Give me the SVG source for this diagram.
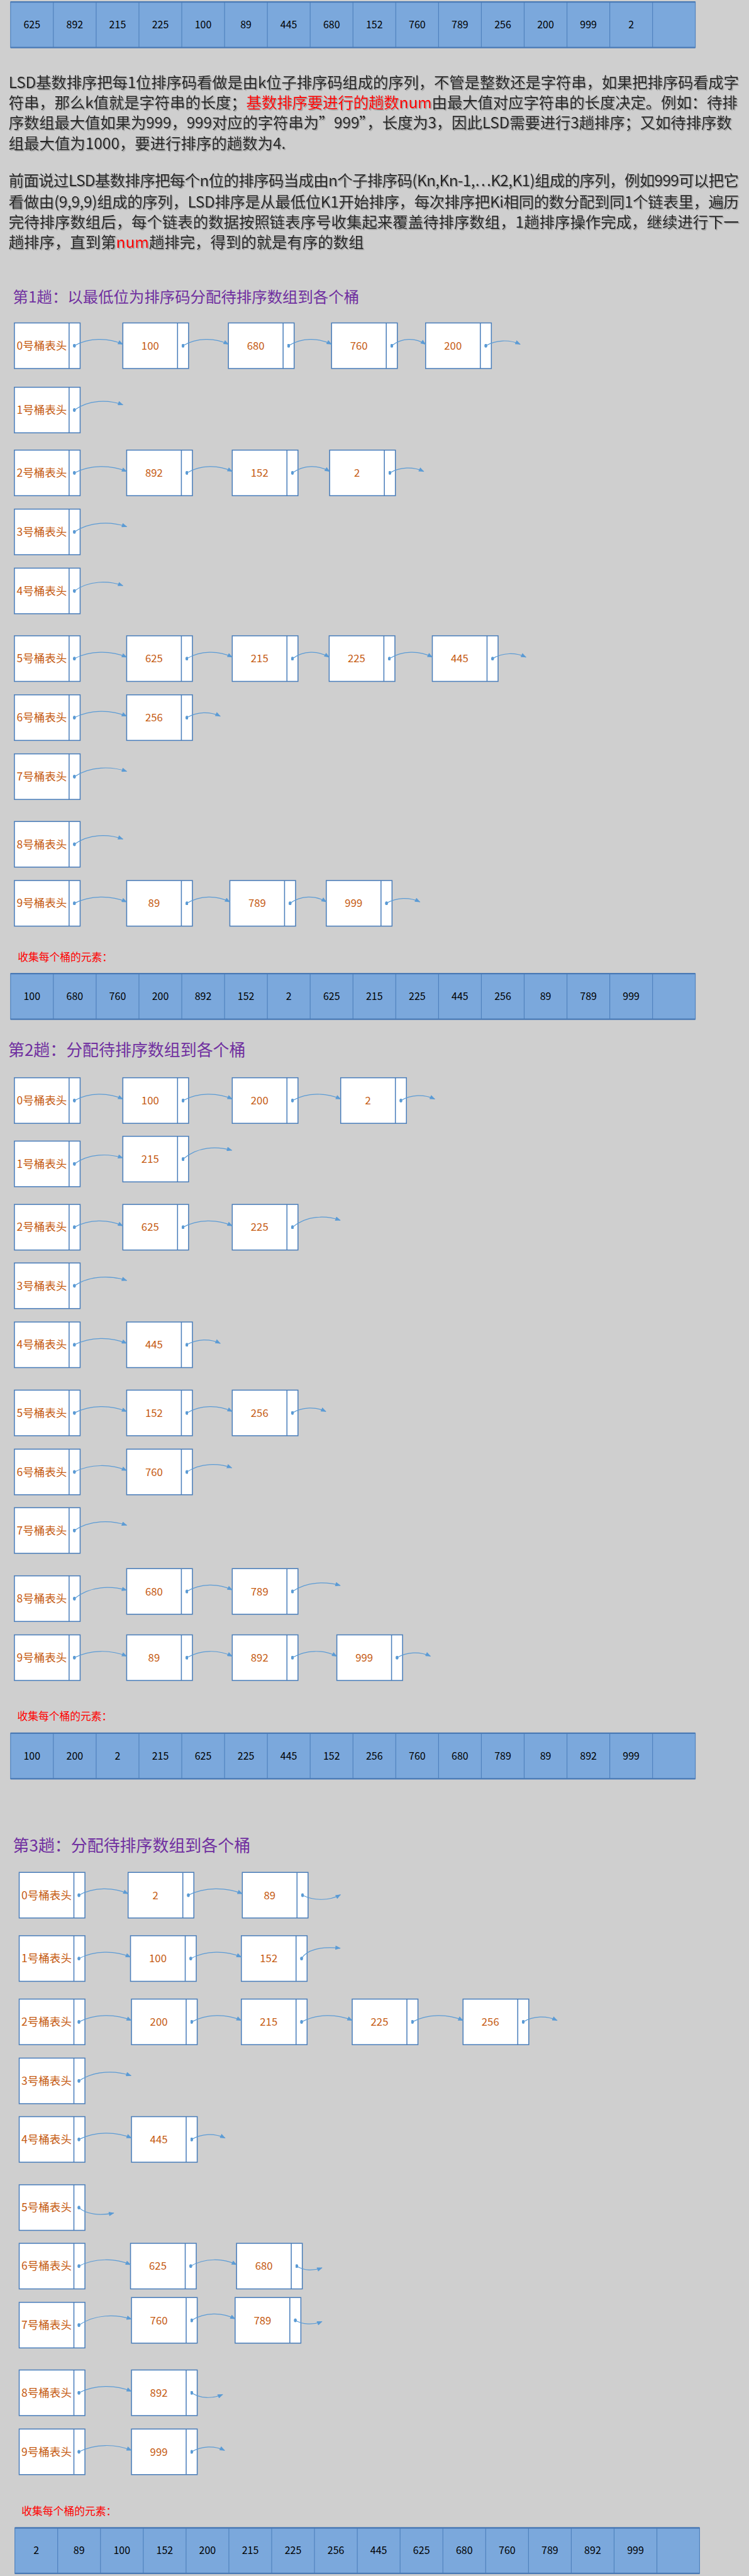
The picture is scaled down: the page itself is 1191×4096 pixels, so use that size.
<svg xmlns="http://www.w3.org/2000/svg" width="1191" height="4096" viewBox="0 0 1191 4096">
<style>
text{font-family:"Noto Sans CJK SC","Noto Sans",sans-serif}
.p{font-size:32px;fill:#262626;filter:url(#sh)}
.red{fill:#FF0000}
.t1{font-size:32px;fill:#7030A0}
.t2{font-size:34px;fill:#7030A0}
.col{font-size:22px;fill:#FF0000}
.h{font-size:23px;fill:#C55A11;text-anchor:middle}
.v{font-size:22px;fill:#C55A11;text-anchor:middle}
.a{font-size:21px;fill:#000;text-anchor:middle}
.c{fill:none;stroke:#5B9BD5;stroke-width:1.6;marker-start:url(#dot);marker-end:url(#ah)}
</style>
<defs>
<filter id="sh" x="-5%" y="-30%" width="110%" height="160%"><feDropShadow dx="2" dy="2" stdDeviation="0.6" flood-color="#8a8a8a" flood-opacity="0.8"/></filter>
<marker id="ah" viewBox="0 0 10 8" refX="9" refY="4" markerWidth="12" markerHeight="9" markerUnits="userSpaceOnUse" orient="auto"><path d="M0,0L10,4L0,8z" fill="#5B9BD5"/></marker>
<marker id="dot" viewBox="0 0 6 8" refX="3" refY="4" markerWidth="6" markerHeight="8" markerUnits="userSpaceOnUse"><ellipse cx="3" cy="4" rx="3" ry="4" fill="#5B9BD5"/></marker>
<g id="nb"><rect x="0" y="0" width="137" height="95" fill="#fff" stroke="#4A7EBB" stroke-width="2"/><line x1="114" y1="0" x2="114" y2="95" stroke="#4A7EBB" stroke-width="2"/></g>
<g id="af"><rect width="1427" height="95" fill="#7BA8DC" stroke="#4F81BD" stroke-width="1.5"/><path d="M89.2,0V95M178.4,0V95M267.6,0V95M356.8,0V95M446,0V95M535.2,0V95M624.4,0V95M713.6,0V95M802.8,0V95M892,0V95M981.2,0V95M1070.4,0V95M1159.6,0V95M1248.8,0V95M1338,0V95" stroke="#4F81BD" stroke-width="1.5"/><path d="M0,0H1427M0,95H1427" stroke="#4A7AB5" stroke-width="3"/></g>
</defs>
<rect x="0" y="0" width="1191" height="4096" fill="#CFCFCF"/>
<g transform="scale(0.763)">

<g id="array-input" transform="translate(22,4)"><use href="#af"/>
<text class="a" x="44.6" y="55">625</text><text class="a" x="133.8" y="55">892</text><text class="a" x="223" y="55">215</text><text class="a" x="312.2" y="55">225</text><text class="a" x="401.4" y="55">100</text><text class="a" x="490.6" y="55">89</text><text class="a" x="579.8" y="55">445</text><text class="a" x="669" y="55">680</text><text class="a" x="758.2" y="55">152</text><text class="a" x="847.4" y="55">760</text><text class="a" x="936.6" y="55">789</text><text class="a" x="1025.8" y="55">256</text><text class="a" x="1115" y="55">200</text><text class="a" x="1204.2" y="55">999</text><text class="a" x="1293.4" y="55">2</text></g>

<g id="desc">
<text class="p" x="18" y="184" textLength="1522" lengthAdjust="spacing">LSD基数排序把每1位排序码看做是由k位子排序码组成的序列，不管是整数还是字符串，如果把排序码看成字</text>
<text class="p" x="18" y="225" textLength="1519" lengthAdjust="spacing">符串，那么k值就是字符串的长度；<tspan class="red">基数排序要进行的趟数num</tspan>由最大值对应字符串的长度决定。例如：待排</text>
<text class="p" x="18" y="267" textLength="1507" lengthAdjust="spacing">序数组最大值如果为999，999对应的字符串为”999”，长度为3，因此LSD需要进行3趟排序；又如待排序数</text>
<text class="p" x="18" y="310">组最大值为1000，要进行排序的趟数为4.</text>
<text class="p" x="18" y="388" textLength="1522" lengthAdjust="spacing">前面说过LSD基数排序把每个n位的排序码当成由n个子排序码(Kn,Kn-1,…K2,K1)组成的序列，例如999可以把它</text>
<text class="p" x="18" y="432" textLength="1522" lengthAdjust="spacing">看做由(9,9,9)组成的序列，LSD排序是从最低位K1开始排序，每次排序把Ki相同的数分配到同1个链表里，遍历</text>
<text class="p" x="18" y="474" textLength="1522" lengthAdjust="spacing">完待排序数组后，每个链表的数据按照链表序号收集起来覆盖待排序数组，1趟排序操作完成，继续进行下一</text>
<text class="p" x="18" y="516">趟排序，直到第<tspan class="red">num</tspan>趟排完，得到的就是有序的数组</text>
</g>

<text id="title1" class="t1" x="27" y="630">第1趟：以最低位为排序码分配待排序数组到各个桶</text>

<g id="p1h0"><use href="#nb" x="30" y="673"/><text class="h" x="87" y="728.5">0号桶表头</text></g>
<g id="p1n0a"><use href="#nb" x="256" y="673"/><text class="v" x="313" y="728.5">100</text></g>
<g id="p1n0b"><use href="#nb" x="476" y="673"/><text class="v" x="533" y="728.5">680</text></g>
<g id="p1n0c"><use href="#nb" x="691" y="673"/><text class="v" x="748" y="728.5">760</text></g>
<g id="p1n0d"><use href="#nb" x="887" y="673"/><text class="v" x="944" y="728.5">200</text></g>
<g id="p1h1"><use href="#nb" x="30" y="807"/><text class="h" x="87" y="862.5">1号桶表头</text></g>
<g id="p1h2"><use href="#nb" x="30" y="938"/><text class="h" x="87" y="993.5">2号桶表头</text></g>
<g id="p1n2a"><use href="#nb" x="264" y="938"/><text class="v" x="321" y="993.5">892</text></g>
<g id="p1n2b"><use href="#nb" x="484" y="938"/><text class="v" x="541" y="993.5">152</text></g>
<g id="p1n2c"><use href="#nb" x="687" y="938"/><text class="v" x="744" y="993.5">2</text></g>
<g id="p1h3"><use href="#nb" x="30" y="1061"/><text class="h" x="87" y="1116.5">3号桶表头</text></g>
<g id="p1h4"><use href="#nb" x="30" y="1184"/><text class="h" x="87" y="1239.5">4号桶表头</text></g>
<g id="p1h5"><use href="#nb" x="30" y="1325"/><text class="h" x="87" y="1380.5">5号桶表头</text></g>
<g id="p1n5a"><use href="#nb" x="264" y="1325"/><text class="v" x="321" y="1380.5">625</text></g>
<g id="p1n5b"><use href="#nb" x="484" y="1325"/><text class="v" x="541" y="1380.5">215</text></g>
<g id="p1n5c"><use href="#nb" x="686" y="1325"/><text class="v" x="743" y="1380.5">225</text></g>
<g id="p1n5d"><use href="#nb" x="901" y="1325"/><text class="v" x="958" y="1380.5">445</text></g>
<g id="p1h6"><use href="#nb" x="30" y="1448"/><text class="h" x="87" y="1503.5">6号桶表头</text></g>
<g id="p1n6a"><use href="#nb" x="264" y="1448"/><text class="v" x="321" y="1503.5">256</text></g>
<g id="p1h7"><use href="#nb" x="30" y="1571"/><text class="h" x="87" y="1626.5">7号桶表头</text></g>
<g id="p1h8"><use href="#nb" x="30" y="1712"/><text class="h" x="87" y="1767.5">8号桶表头</text></g>
<g id="p1h9"><use href="#nb" x="30" y="1835"/><text class="h" x="87" y="1890.5">9号桶表头</text></g>
<g id="p1n9a"><use href="#nb" x="264" y="1835"/><text class="v" x="321" y="1890.5">89</text></g>
<g id="p1n9b"><use href="#nb" x="479" y="1835"/><text class="v" x="536" y="1890.5">789</text></g>
<g id="p1n9c"><use href="#nb" x="680" y="1835"/><text class="v" x="737" y="1890.5">999</text></g>

<text id="collect1" class="col" x="37" y="2003">收集每个桶的元素：</text>
<g id="array-pass1" transform="translate(22,2029)"><use href="#af"/>
<text class="a" x="44.6" y="55">100</text><text class="a" x="133.8" y="55">680</text><text class="a" x="223" y="55">760</text><text class="a" x="312.2" y="55">200</text><text class="a" x="401.4" y="55">892</text><text class="a" x="490.6" y="55">152</text><text class="a" x="579.8" y="55">2</text><text class="a" x="669" y="55">625</text><text class="a" x="758.2" y="55">215</text><text class="a" x="847.4" y="55">225</text><text class="a" x="936.6" y="55">445</text><text class="a" x="1025.8" y="55">256</text><text class="a" x="1115" y="55">89</text><text class="a" x="1204.2" y="55">789</text><text class="a" x="1293.4" y="55">999</text></g>

<text id="title2" class="t2" x="17" y="2201">第2趟：分配待排序数组到各个桶</text>

<g id="p2h0"><use href="#nb" x="30" y="2246"/><text class="h" x="87" y="2301.5">0号桶表头</text></g>
<g id="p2n0a"><use href="#nb" x="256" y="2246"/><text class="v" x="313" y="2301.5">100</text></g>
<g id="p2n0b"><use href="#nb" x="484" y="2246"/><text class="v" x="541" y="2301.5">200</text></g>
<g id="p2n0c"><use href="#nb" x="710" y="2246"/><text class="v" x="767" y="2301.5">2</text></g>
<g id="p2h1"><use href="#nb" x="30" y="2378"/><text class="h" x="87" y="2433.5">1号桶表头</text></g>
<g id="p2n1a"><use href="#nb" x="256" y="2368"/><text class="v" x="313" y="2423.5">215</text></g>
<g id="p2h2"><use href="#nb" x="30" y="2510"/><text class="h" x="87" y="2565.5">2号桶表头</text></g>
<g id="p2n2a"><use href="#nb" x="256" y="2510"/><text class="v" x="313" y="2565.5">625</text></g>
<g id="p2n2b"><use href="#nb" x="484" y="2510"/><text class="v" x="541" y="2565.5">225</text></g>
<g id="p2h3"><use href="#nb" x="30" y="2632"/><text class="h" x="87" y="2687.5">3号桶表头</text></g>
<g id="p2h4"><use href="#nb" x="30" y="2755"/><text class="h" x="87" y="2810.5">4号桶表头</text></g>
<g id="p2n4a"><use href="#nb" x="264" y="2755"/><text class="v" x="321" y="2810.5">445</text></g>
<g id="p2h5"><use href="#nb" x="30" y="2897"/><text class="h" x="87" y="2952.5">5号桶表头</text></g>
<g id="p2n5a"><use href="#nb" x="264" y="2897"/><text class="v" x="321" y="2952.5">152</text></g>
<g id="p2n5b"><use href="#nb" x="484" y="2897"/><text class="v" x="541" y="2952.5">256</text></g>
<g id="p2h6"><use href="#nb" x="30" y="3020"/><text class="h" x="87" y="3075.5">6号桶表头</text></g>
<g id="p2n6a"><use href="#nb" x="264" y="3020"/><text class="v" x="321" y="3075.5">760</text></g>
<g id="p2h7"><use href="#nb" x="30" y="3142"/><text class="h" x="87" y="3197.5">7号桶表头</text></g>
<g id="p2h8"><use href="#nb" x="30" y="3284"/><text class="h" x="87" y="3339.5">8号桶表头</text></g>
<g id="p2n8a"><use href="#nb" x="264" y="3269"/><text class="v" x="321" y="3324.5">680</text></g>
<g id="p2n8b"><use href="#nb" x="484" y="3269"/><text class="v" x="541" y="3324.5">789</text></g>
<g id="p2h9"><use href="#nb" x="30" y="3407"/><text class="h" x="87" y="3462.5">9号桶表头</text></g>
<g id="p2n9a"><use href="#nb" x="264" y="3407"/><text class="v" x="321" y="3462.5">89</text></g>
<g id="p2n9b"><use href="#nb" x="484" y="3407"/><text class="v" x="541" y="3462.5">892</text></g>
<g id="p2n9c"><use href="#nb" x="702" y="3407"/><text class="v" x="759" y="3462.5">999</text></g>

<text id="collect2" class="col" x="36" y="3585">收集每个桶的元素：</text>
<g id="array-pass2" transform="translate(22,3612)"><use href="#af"/>
<text class="a" x="44.6" y="55">100</text><text class="a" x="133.8" y="55">200</text><text class="a" x="223" y="55">2</text><text class="a" x="312.2" y="55">215</text><text class="a" x="401.4" y="55">625</text><text class="a" x="490.6" y="55">225</text><text class="a" x="579.8" y="55">445</text><text class="a" x="669" y="55">152</text><text class="a" x="758.2" y="55">256</text><text class="a" x="847.4" y="55">760</text><text class="a" x="936.6" y="55">680</text><text class="a" x="1025.8" y="55">789</text><text class="a" x="1115" y="55">89</text><text class="a" x="1204.2" y="55">892</text><text class="a" x="1293.4" y="55">999</text></g>

<text id="title3" class="t2" x="27" y="3858">第3趟：分配待排序数组到各个桶</text>

<g id="p3h0"><use href="#nb" x="40" y="3902"/><text class="h" x="97" y="3957.5">0号桶表头</text></g>
<g id="p3n0a"><use href="#nb" x="267" y="3902"/><text class="v" x="324" y="3957.5">2</text></g>
<g id="p3n0b"><use href="#nb" x="505" y="3902"/><text class="v" x="562" y="3957.5">89</text></g>
<g id="p3h1"><use href="#nb" x="40" y="4034"/><text class="h" x="97" y="4089.5">1号桶表头</text></g>
<g id="p3n1a"><use href="#nb" x="272" y="4034"/><text class="v" x="329" y="4089.5">100</text></g>
<g id="p3n1b"><use href="#nb" x="503" y="4034"/><text class="v" x="560" y="4089.5">152</text></g>
<g id="p3h2"><use href="#nb" x="40" y="4166"/><text class="h" x="97" y="4221.5">2号桶表头</text></g>
<g id="p3n2a"><use href="#nb" x="274" y="4166"/><text class="v" x="331" y="4221.5">200</text></g>
<g id="p3n2b"><use href="#nb" x="503" y="4166"/><text class="v" x="560" y="4221.5">215</text></g>
<g id="p3n2c"><use href="#nb" x="734" y="4166"/><text class="v" x="791" y="4221.5">225</text></g>
<g id="p3n2d"><use href="#nb" x="965" y="4166"/><text class="v" x="1022" y="4221.5">256</text></g>
<g id="p3h3"><use href="#nb" x="40" y="4289"/><text class="h" x="97" y="4344.5">3号桶表头</text></g>
<g id="p3h4"><use href="#nb" x="40" y="4411"/><text class="h" x="97" y="4466.5">4号桶表头</text></g>
<g id="p3n4a"><use href="#nb" x="274" y="4411"/><text class="v" x="331" y="4466.5">445</text></g>
<g id="p3h5"><use href="#nb" x="40" y="4553"/><text class="h" x="97" y="4608.5">5号桶表头</text></g>
<g id="p3h6"><use href="#nb" x="40" y="4675"/><text class="h" x="97" y="4730.5">6号桶表头</text></g>
<g id="p3n6a"><use href="#nb" x="272" y="4675"/><text class="v" x="329" y="4730.5">625</text></g>
<g id="p3n6b"><use href="#nb" x="493" y="4675"/><text class="v" x="550" y="4730.5">680</text></g>
<g id="p3h7"><use href="#nb" x="40" y="4798"/><text class="h" x="97" y="4853.5">7号桶表头</text></g>
<g id="p3n7a"><use href="#nb" x="274" y="4788"/><text class="v" x="331" y="4843.5">760</text></g>
<g id="p3n7b"><use href="#nb" x="490" y="4788"/><text class="v" x="547" y="4843.5">789</text></g>
<g id="p3h8"><use href="#nb" x="40" y="4939"/><text class="h" x="97" y="4994.5">8号桶表头</text></g>
<g id="p3n8a"><use href="#nb" x="274" y="4939"/><text class="v" x="331" y="4994.5">892</text></g>
<g id="p3h9"><use href="#nb" x="40" y="5062"/><text class="h" x="97" y="5117.5">9号桶表头</text></g>
<g id="p3n9a"><use href="#nb" x="274" y="5062"/><text class="v" x="331" y="5117.5">999</text></g>

<text id="collect3" class="col" x="45" y="5241">收集每个桶的元素：</text>
<g id="array-pass3" transform="translate(31,5268)"><use href="#af"/>
<text class="a" x="44.6" y="55">2</text><text class="a" x="133.8" y="55">89</text><text class="a" x="223" y="55">100</text><text class="a" x="312.2" y="55">152</text><text class="a" x="401.4" y="55">200</text><text class="a" x="490.6" y="55">215</text><text class="a" x="579.8" y="55">225</text><text class="a" x="669" y="55">256</text><text class="a" x="758.2" y="55">445</text><text class="a" x="847.4" y="55">625</text><text class="a" x="936.6" y="55">680</text><text class="a" x="1025.8" y="55">760</text><text class="a" x="1115" y="55">789</text><text class="a" x="1204.2" y="55">892</text><text class="a" x="1293.4" y="55">999</text></g>

<g id="connectors">
<path class="c" d="M155,720.5 c30.3,-17 70.7,-17 101,-3"/>
<path class="c" d="M381.5,720.5 c28.4,-17 66.2,-17 94.5,-3"/>
<path class="c" d="M601.5,720.5 c26.9,-17 62.7,-17 89.5,-3"/>
<path class="c" d="M816.5,720.5 c21.2,-17 49.4,-17 70.5,-3"/>
<path class="c" d="M1012.5,720.5 c21.5,-13 50.1,-13 71.5,-3"/>
<path class="c" d="M155,854.5 c30.3,-22 70.7,-22 101,-11"/>
<path class="c" d="M155,985.5 c32.7,-17 76.3,-17 109,-3"/>
<path class="c" d="M389.5,985.5 c28.4,-17 66.2,-17 94.5,-3"/>
<path class="c" d="M609.5,985.5 c23.3,-17 54.3,-17 77.5,-3"/>
<path class="c" d="M812.5,985.5 c21.2,-13 49.4,-13 70.5,-3"/>
<path class="c" d="M155,1108.5 c32.7,-22 76.3,-22 109,-11"/>
<path class="c" d="M155,1231.5 c30.3,-22 70.7,-22 101,-11"/>
<path class="c" d="M155,1372.5 c32.7,-17 76.3,-17 109,-3"/>
<path class="c" d="M389.5,1372.5 c28.4,-17 66.2,-17 94.5,-3"/>
<path class="c" d="M609.5,1372.5 c23,-17 53.6,-17 76.5,-3"/>
<path class="c" d="M811.5,1372.5 c26.9,-17 62.7,-17 89.5,-3"/>
<path class="c" d="M1026.5,1372.5 c20.9,-13 48.7,-13 69.5,-3"/>
<path class="c" d="M155,1495.5 c32.7,-17 76.3,-17 109,-3"/>
<path class="c" d="M389.5,1495.5 c20.9,-13 48.7,-13 69.5,-3"/>
<path class="c" d="M155,1618.5 c32.7,-22 76.3,-22 109,-11"/>
<path class="c" d="M155,1759.5 c30.3,-22 70.7,-22 101,-11"/>
<path class="c" d="M155,1882.5 c32.7,-17 76.3,-17 109,-3"/>
<path class="c" d="M389.5,1882.5 c26.9,-17 62.7,-17 89.5,-3"/>
<path class="c" d="M604.5,1882.5 c22.7,-17 52.9,-17 75.5,-3"/>
<path class="c" d="M805.5,1882.5 c20.9,-13 48.7,-13 69.5,-3"/>

<path class="c" d="M155,2293.5 c30.3,-17 70.7,-17 101,-3"/>
<path class="c" d="M381.5,2293.5 c30.8,-17 71.8,-17 102.5,-3"/>
<path class="c" d="M609.5,2293.5 c30.2,-17 70.4,-17 100.5,-3"/>
<path class="c" d="M835.5,2293.5 c21.2,-13 49.4,-13 70.5,-3"/>
<path class="c" d="M155,2425.5 c30.3,-22 70.7,-22 101,-12.5"/>
<path class="c" d="M381.5,2415.5 c30.5,-27 71,-27 101.5,-18.5"/>
<path class="c" d="M155,2557.5 c30.3,-17 70.7,-17 101,-3"/>
<path class="c" d="M381.5,2557.5 c30.8,-17 71.8,-17 102.5,-3"/>
<path class="c" d="M609.5,2557.5 c29.9,-25 69.7,-25 99.5,-14.5"/>
<path class="c" d="M155,2679.5 c32.7,-22 76.3,-22 109,-11"/>
<path class="c" d="M155,2802.5 c32.7,-17 76.3,-17 109,-3"/>
<path class="c" d="M389.5,2802.5 c20.9,-13 48.7,-13 69.5,-3"/>
<path class="c" d="M155,2944.5 c32.7,-17 76.3,-17 109,-3"/>
<path class="c" d="M389.5,2944.5 c28.4,-17 66.2,-17 94.5,-3"/>
<path class="c" d="M609.5,2944.5 c20.9,-13 48.7,-13 69.5,-3"/>
<path class="c" d="M155,3067.5 c32.7,-17 76.3,-17 109,-3"/>
<path class="c" d="M389.5,3067.5 c28,-19 65.5,-19 93.5,-8.5"/>
<path class="c" d="M155,3189.5 c32.7,-22 76.3,-22 109,-11"/>
<path class="c" d="M155,3331.5 c32.7,-27 76.3,-27 109,-17.5"/>
<path class="c" d="M389.5,3316.5 c28.4,-17 66.2,-17 94.5,-3"/>
<path class="c" d="M609.5,3316.5 c29.9,-21 69.7,-21 99.5,-12.5"/>
<path class="c" d="M155,3454.5 c32.7,-17 76.3,-17 109,-3"/>
<path class="c" d="M389.5,3454.5 c28.4,-17 66.2,-17 94.5,-3"/>
<path class="c" d="M609.5,3454.5 c27.8,-17 64.8,-17 92.5,-3"/>
<path class="c" d="M827.5,3454.5 c20.9,-13 48.7,-13 69.5,-3"/>

<path class="c" d="M164.5,3949.5 c30.8,-17 71.8,-17 102.5,-3"/>
<path class="c" d="M392.5,3949.5 c33.8,-17 78.8,-17 112.5,-3"/>
<path class="c" d="M630.5,3949.5 c23.7,12 55.3,12 79,-1"/>
<path class="c" d="M164.5,4081.5 c32.3,-17 75.3,-17 107.5,-3"/>
<path class="c" d="M397.5,4081.5 c31.7,-17 73.9,-17 105.5,-3"/>
<path class="c" d="M628.5,4081.5 c10,-18 40,-26 80.5,-21.5"/>
<path class="c" d="M164.5,4213.5 c32.9,-17 76.7,-17 109.5,-3"/>
<path class="c" d="M399.5,4213.5 c31.1,-17 72.5,-17 103.5,-3"/>
<path class="c" d="M628.5,4213.5 c31.7,-17 73.9,-17 105.5,-3"/>
<path class="c" d="M859.5,4213.5 c31.7,-17 73.9,-17 105.5,-3"/>
<path class="c" d="M1090.5,4213.5 c21.2,-13 49.4,-13 70.5,-3"/>
<path class="c" d="M164.5,4336.5 c32.6,-22 76,-22 108.5,-11"/>
<path class="c" d="M164.5,4458.5 c32.9,-17 76.7,-17 109.5,-3"/>
<path class="c" d="M399.5,4458.5 c20.9,-13 48.7,-13 69.5,-3"/>
<path class="c" d="M164.5,4600.5 c15,15 45,17 72.5,11.5"/>
<path class="c" d="M164.5,4722.5 c32.3,-17 75.3,-17 107.5,-3"/>
<path class="c" d="M397.5,4722.5 c28.7,-17 67,-17 95.5,-3"/>
<path class="c" d="M618.5,4722.5 c15,10 35,10 52.5,3.5"/>
<path class="c" d="M164.5,4845.5 c32.9,-23 76.7,-23 109.5,-12.5"/>
<path class="c" d="M399.5,4835.5 c27.2,-17 63.4,-17 90.5,-3"/>
<path class="c" d="M615.5,4835.5 c15,9 37,10 55.5,2.5"/>
<path class="c" d="M164.5,4986.5 c32.9,-17 76.7,-17 109.5,-3"/>
<path class="c" d="M399.5,4986.5 c18,12 42,13 64.5,3.5"/>
<path class="c" d="M164.5,5109.5 c32.9,-17 76.7,-17 109.5,-3"/>
<path class="c" d="M399.5,5109.5 c20.7,-13 48.3,-13 68.5,-3"/>
</g>
</g>
</svg>
